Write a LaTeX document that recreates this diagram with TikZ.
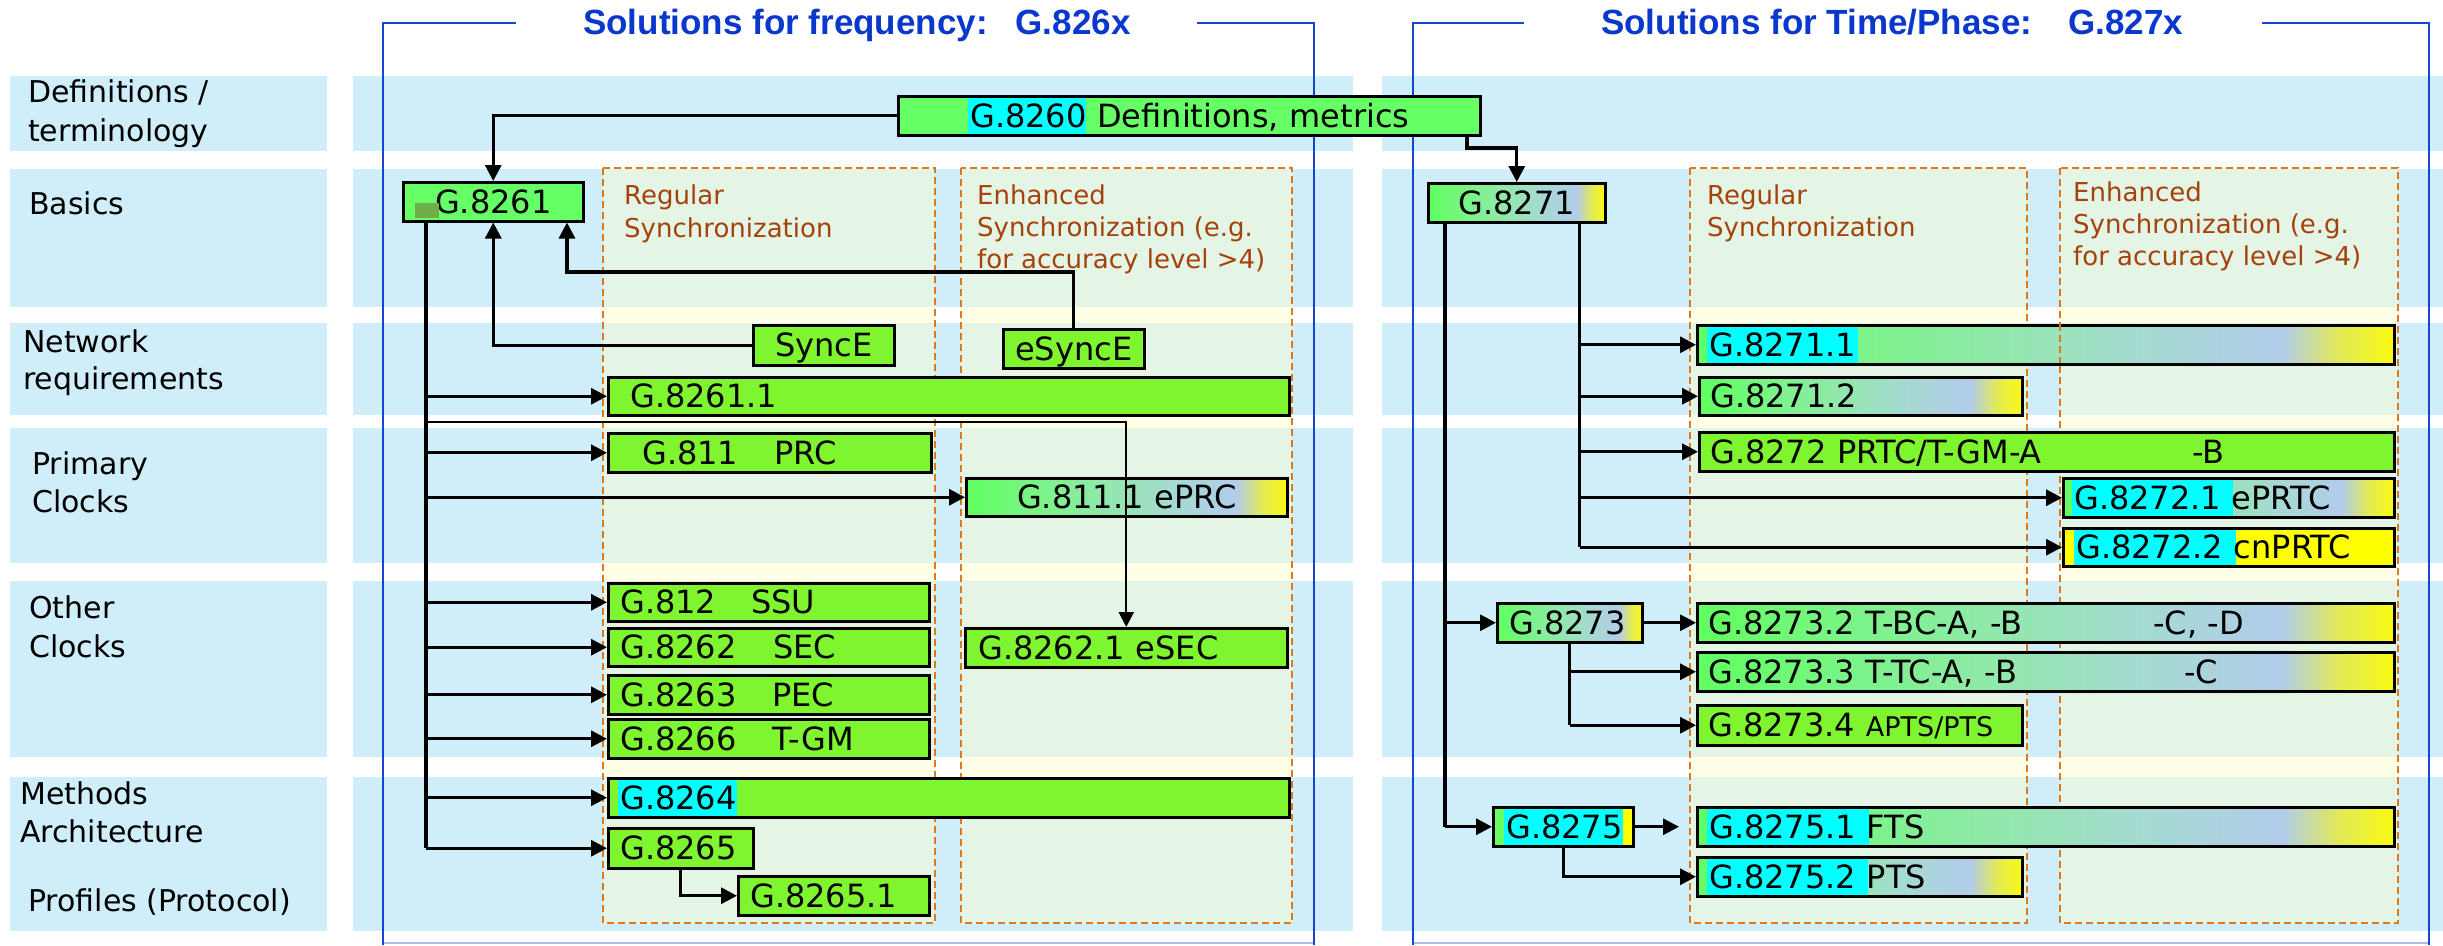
\documentclass[tikz,border=0pt]{standalone}
\usepackage{fontspec}
\setmainfont{DejaVu Sans}
\newfontfamily\ttlfont{Liberation Sans}
\usetikzlibrary{arrows.meta}
\definecolor{band}{HTML}{D0EEF9}
\definecolor{dgrn}{HTML}{E4F4E5}
\definecolor{dyel}{HTML}{FFFEE6}
\definecolor{dashc}{HTML}{DF7A1C}
\definecolor{brn}{HTML}{A5410A}
\definecolor{ttl}{HTML}{0A38CC}
\definecolor{frm}{HTML}{1446D2}
\definecolor{frmb}{HTML}{A7BFF0}
\definecolor{lgrn}{HTML}{66FF66}
\definecolor{sgrn}{HTML}{7FF52F}
\definecolor{hcyan}{HTML}{00FFFF}
\definecolor{hyel}{HTML}{FFFF00}
\definecolor{sqc}{HTML}{6FAD47}
\definecolor{gs0}{HTML}{60FF60}
\definecolor{gs1}{HTML}{8EEAA6}
\definecolor{gs2}{HTML}{A6DAD2}
\definecolor{gs3}{HTML}{B2CCEA}
\definecolor{gs4}{HTML}{E2EA58}
\definecolor{gs5}{HTML}{FAFA10}
\pgfdeclarehorizontalshading{gby}{100bp}{color(0bp)=(gs0); color(25bp)=(gs0); color(45bp)=(gs1); color(57bp)=(gs2); color(67bp)=(gs3); color(71bp)=(gs4); color(75bp)=(gs5); color(100bp)=(gs5)}
\newcommand\bxfont{\fontsize{32}{38}\selectfont}
\newcommand\myrows[3]{%
  \fill[#1] (#2,76) rectangle (#3,151);
  \fill[#1] (#2,169) rectangle (#3,307);
  \fill[#1] (#2,323) rectangle (#3,415);
  \fill[#1] (#2,428) rectangle (#3,563);
  \fill[#1] (#2,581) rectangle (#3,757);
  \fill[#1] (#2,777) rectangle (#3,931);}
\newcommand\dbox[4]{%
  \fill[dyel] (#1,#2) rectangle (#3,#4);
  \begin{scope}\clip (#1,#2) rectangle (#3,#4);\myrows{dgrn}{#1}{#3}\end{scope}
  \draw[dsh] (#1,#2) rectangle (#3,#4);}
\tikzset{
  dsh/.style={draw=dashc, line width=2pt, dash pattern=on 7pt off 4pt},
  lbl/.style={anchor=base west, inner sep=0pt, font=\fontsize{30}{36}\selectfont},
  brt/.style={anchor=base west, inner sep=0pt, text=brn, font=\fontsize{26}{31}\selectfont},
  ttlst/.style={anchor=base west, inner sep=0pt, text=ttl, font={\ttlfont\bfseries\fontsize{35}{40}\selectfont}},
  frmln/.style={draw=frm, line width=2.6pt},
  frmbot/.style={draw=frmb, line width=2pt},
  gb/.style={draw=black, line width=2.5pt, inner sep=0pt, anchor=north west, align=left,
    text height=23pt, text depth=0pt, font=\bxfont},
  bxw/.style 2 args={minimum width=#1pt, text width=#1pt, minimum height=#2pt},
  hl/.style 2 args={path picture={\fill[hcyan] ([xshift=#1pt]path picture bounding box.north west) rectangle ([xshift=#2pt]path picture bounding box.south west);}},
  conn/.style={line width=3.2pt},
  arr/.style={line width=3.2pt, -{Triangle[length=16pt,width=16pt]}},
  arrt/.style={line width=2.2pt, -{Triangle[length=15pt,width=15pt]}},
}
\begin{document}
\begin{tikzpicture}[x=1pt,y=-1pt]
\useasboundingbox (0,0) rectangle (2443,945);
\fill[white] (0,0) rectangle (2443,945);
% bands
\myrows{band}{10}{327}
\myrows{band}{353}{1353}
\myrows{band}{1382}{2443}
% dashed columns
\dbox{603}{168}{935}{923}
\dbox{961}{168}{1292}{923}
\dbox{1690}{168}{2027}{923}
\dbox{2060}{168}{2398}{923}
% column texts
\node[brt] (r1a) at (624,204) {Regular};
\node[brt] (r1b) at (624,237) {Synchronization};
\node[brt] (e1a) at (977,204) {Enhanced};
\node[brt] (e1b) at (977,236) {Synchronization (e.g.};
\node[brt] (e1c) at (977,268) {for accuracy level >4)};
\node[brt] (r2a) at (1707,204) {Regular};
\node[brt] (r2b) at (1707,236) {Synchronization};
\node[brt] (e2a) at (2073,201) {Enhanced};
\node[brt] (e2b) at (2073,233) {Synchronization (e.g.};
\node[brt] (e2c) at (2073,265) {for accuracy level >4)};
% row labels
\node[lbl] (la1) at (28,102) {Definitions /};
\node[lbl] (la2) at (28,141) {terminology};
\node[lbl] (lb) at (29,214) {Basics};
\node[lbl] (lc1) at (23,352) {Network};
\node[lbl] (lc2) at (23,389) {requirements};
\node[lbl] (ld1) at (32,474) {Primary};
\node[lbl] (ld2) at (32,512) {Clocks};
\node[lbl] (le1) at (29,618) {Other};
\node[lbl] (le2) at (29,657) {Clocks};
\node[lbl] (lf1) at (20,804) {Methods};
\node[lbl] (lf2) at (20,842) {Architecture};
\node[lbl] (lg) at (28,911) {Profiles (Protocol)};
% frames and titles
\draw[frmbot] (383,943) -- (1314,943);
\draw[frmbot] (1413,943) -- (2429,943);
\draw[frmln] (516,23) -- (383,23) -- (383,945);
\draw[frmln] (1197,23) -- (1314,23) -- (1314,945);
\draw[frmln] (1524,23) -- (1413,23) -- (1413,945);
\draw[frmln] (2262,23) -- (2429,23) -- (2429,945);
\node[ttlst] (t1) at (583,34) {Solutions for frequency:\hspace{28pt}G.826x};
\node[ttlst] (t2) at (1601,34) {Solutions for Time/Phase:\hspace{36pt}G.827x};
% boxes left
\node[gb, fill=lgrn, bxw={582}{39}, hl={70}{188}] (g8260) at (897,95) {\hspace*{72pt}G.8260 Definitions, metrics};
\node[gb, fill=lgrn, bxw={180}{39}, align=center] (g8261) at (402,181) {G.8261};
\fill[sqc] (415,203) rectangle (439,218);
\node[gb, fill=sgrn, bxw={141}{40}, align=center] (synce) at (752,324) {SyncE};
\node[gb, fill=sgrn, bxw={141}{39}, align=center] (esynce) at (1002,328) {eSyncE};
\node[gb, fill=sgrn, bxw={681}{38}] (g8261_1) at (607,376) {\hspace*{22pt}G.8261.1};
\node[gb, fill=sgrn, bxw={323}{39}] (g811) at (607,432) {\hspace*{34pt}\makebox[132pt][l]{G.811}PRC};
\node[gb, shading=gby, bxw={321}{38}, align=center] (g811_1) at (965,477) {G.811.1 ePRC};
\node[gb, fill=sgrn, bxw={321}{38}] (g812) at (607,582) {\hspace*{12pt}\makebox[131pt][l]{G.812}SSU};
\node[gb, fill=sgrn, bxw={321}{38}] (g8262) at (607,627) {\hspace*{12pt}\makebox[153pt][l]{G.8262}SEC};
\node[gb, fill=sgrn, bxw={322}{39}] (g8262_1) at (964,627) {\hspace*{13pt}G.8262.1 eSEC};
\node[gb, fill=sgrn, bxw={321}{39}] (g8263) at (607,674) {\hspace*{12pt}\makebox[152pt][l]{G.8263}PEC};
\node[gb, fill=sgrn, bxw={321}{39}] (g8266) at (607,718) {\hspace*{12pt}\makebox[152pt][l]{G.8266}T-GM};
\node[gb, fill=sgrn, bxw={681}{39}, hl={10}{129}] (g8264) at (607,777) {\hspace*{12pt}G.8264};
\node[gb, fill=sgrn, bxw={145}{40}] (g8265) at (607,827) {\hspace*{12pt}G.8265};
\node[gb, fill=sgrn, bxw={191}{39}] (g8265_1) at (737,875) {\hspace*{12pt}G.8265.1};
% boxes right
\node[gb, shading=gby, bxw={177}{39}, align=center] (g8271) at (1427,182) {G.8271};
\node[gb, shading=gby, bxw={697}{39}, hl={10}{161}] (g8271_1) at (1696,324) {\hspace*{12pt}G.8271.1};
\node[gb, shading=gby, bxw={323}{38}] (g8271_2) at (1698,376) {\hspace*{11pt}G.8271.2};
\node[gb, fill=sgrn, bxw={695}{39}] (g8272) at (1698,431) {\hspace*{11pt}\makebox[482pt][l]{G.8272 PRTC/T-GM-A}-B};
\node[gb, shading=gby, bxw={331}{39}, hl={9}{170}] (g8272_1) at (2062,477) {\hspace*{11pt}G.8272.1 ePRTC};
\node[gb, fill=hyel, bxw={331}{38}, hl={11}{173}] (g8272_2) at (2062,527) {\hspace*{13pt}G.8272.2 cnPRTC};
\node[gb, shading=gby, bxw={145}{39}] (g8273) at (1496,602) {\hspace*{12pt}G.8273};
\node[gb, shading=gby, bxw={697}{39}] (g8273_2) at (1696,602) {\hspace*{11pt}\makebox[445pt][l]{G.8273.2 T-BC-A, -B}-C, -D};
\node[gb, shading=gby, bxw={697}{39}] (g8273_3) at (1696,651) {\hspace*{11pt}\makebox[476pt][l]{G.8273.3 T-TC-A, -B}-C};
\node[gb, fill=sgrn, bxw={325}{40}] (g8273_4) at (1696,704) {\hspace*{11pt}G.8273.4 {\fontsize{27}{30}\selectfont APTS/PTS}};
\node[gb, fill=hyel, bxw={140}{39},
  path picture={\fill[lgrn] (path picture bounding box.north west) rectangle ([xshift=11pt]path picture bounding box.south west);
  \fill[hcyan] ([xshift=11pt]path picture bounding box.north west) rectangle ([xshift=130pt]path picture bounding box.south west);}] (g8275) at (1492,806) {\hspace*{13pt}G.8275};
\node[gb, shading=gby, bxw={697}{39}, hl={10}{172}] (g8275_1) at (1696,806) {\hspace*{12pt}G.8275.1 FTS};
\node[gb, shading=gby, bxw={325}{39}, hl={10}{171}] (g8275_2) at (1696,856) {\hspace*{12pt}G.8275.2 PTS};
\draw[dsh] (2060,324) -- (2060,363);
% connectors left
\coordinate (t0) at ([xshift=24pt]g8261.south west);
\coordinate (y422) at (0,422);
\coordinate (e1) at (567,272);
\coordinate (d1) at (1467,148);
\draw[arr] (g8260.west) -| (g8261.north);
\draw[arr] (d1 |- g8260.south) -- (d1) -| (g8271.north);
\draw[arr] (synce.west) -| (g8261.south);
\draw[arr] (esynce.north) |- (e1) -- (e1 |- g8261.south);
\draw[conn] (t0) -- (t0 |- g8265.west);
\foreach \n in {g8261_1,g811,g811_1,g812,g8262,g8263,g8266,g8264,g8265}
  \draw[arr] (t0 |- \n.west) -- (\n.west);
\draw[arrt] (t0 |- y422) -- (g8262_1.north |- y422) -- (g8262_1.north);
\draw[arr] (g8265.south) |- (g8265_1.west);
% connectors right
\coordinate (r1) at ([xshift=18pt]g8271.south west);
\coordinate (r2) at ([xshift=-27pt]g8271.south east);
\coordinate (f1) at ([xshift=-17pt]g8275_1.west);
\draw[conn] (r1) -- (r1 |- g8275.west);
\draw[arr] (r1 |- g8273.west) -- (g8273.west);
\draw[arr] (r1 |- g8275.west) -- (g8275.west);
\draw[conn] (r2) -- (r2 |- g8272_2.west);
\foreach \n in {g8271_1,g8271_2,g8272,g8272_1,g8272_2}
  \draw[arr] (r2 |- \n.west) -- (\n.west);
\draw[arr] (g8273.east) -- (g8273_2.west);
\draw[conn] (g8273.south) -- (g8273.south |- g8273_4.west);
\draw[arr] (g8273.south |- g8273_3.west) -- (g8273_3.west);
\draw[arr] (g8273.south |- g8273_4.west) -- (g8273_4.west);
\draw[arr] (g8275.east) -- (f1);
\draw[arr] (g8275.south) |- (g8275_2.west);
\end{tikzpicture}
\end{document}
